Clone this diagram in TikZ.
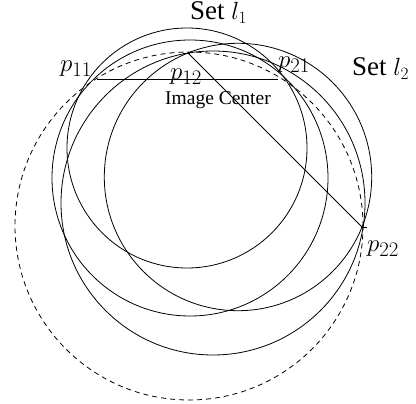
\documentclass[tikz,border=0pt]{standalone}
\usepackage{fontspec}
\setmainfont{Liberation Serif}
\begin{document}
\begin{tikzpicture}[x=1pt,y=-1pt,
  circ/.style={line width=0.8pt},
  dcirc/.style={line width=0.8pt,dash pattern=on 5pt off 4pt},
  seg/.style={line width=0.8pt},
  setlab/.style={inner sep=0pt,anchor=base west,font=\fontsize{27}{30}\selectfont},
  lab/.style={inner sep=0pt,anchor=base west,font=\fontsize{28}{31}\selectfont},
  small/.style={inner sep=0pt,anchor=base west,font=\fontsize{19.5}{22}\selectfont}]
\useasboundingbox (0,0) rectangle (416,404);
% circles of set l1
\draw[circ] (187,148) circle[radius=120pt];
\draw[circ] (190,178) circle[radius=138pt];
% circles of set l2
\draw[circ] (238,177) circle[radius=133.7pt];
\draw[circ] (213,203) circle[radius=152pt];
% dashed circle
\draw[dcirc] (189,226) circle[radius=174pt];
% points
\coordinate (a) at (97,79);
\coordinate (b) at (278,79);
\coordinate (c) at (188,53);
\coordinate (d) at (362,227);
\draw[seg] (a) -- (b);
\draw[seg] (c) -- (d);
\draw[seg] ([xshift=-5pt]c) -- ([xshift=2pt]c);
\draw[seg] ([xshift=-1pt]d) -- ([xshift=5pt]d);
% labels
\node[setlab] (s1) at (190,20) {Set $l_1$};
\node[setlab] (s2) at (352,76) {Set $l_2$};
\node[lab] (p11) at (60,72) {$p_{11}$};
\node[lab] (p12) at (170,80) {$p_{12}$};
\node[lab] (p21) at (278,68) {$p_{21}$};
\node[lab] (p22) at (367,252) {$p_{22}$};
\node[small] (ic) at (165,105) {Image Center};
\end{tikzpicture}
\end{document}
